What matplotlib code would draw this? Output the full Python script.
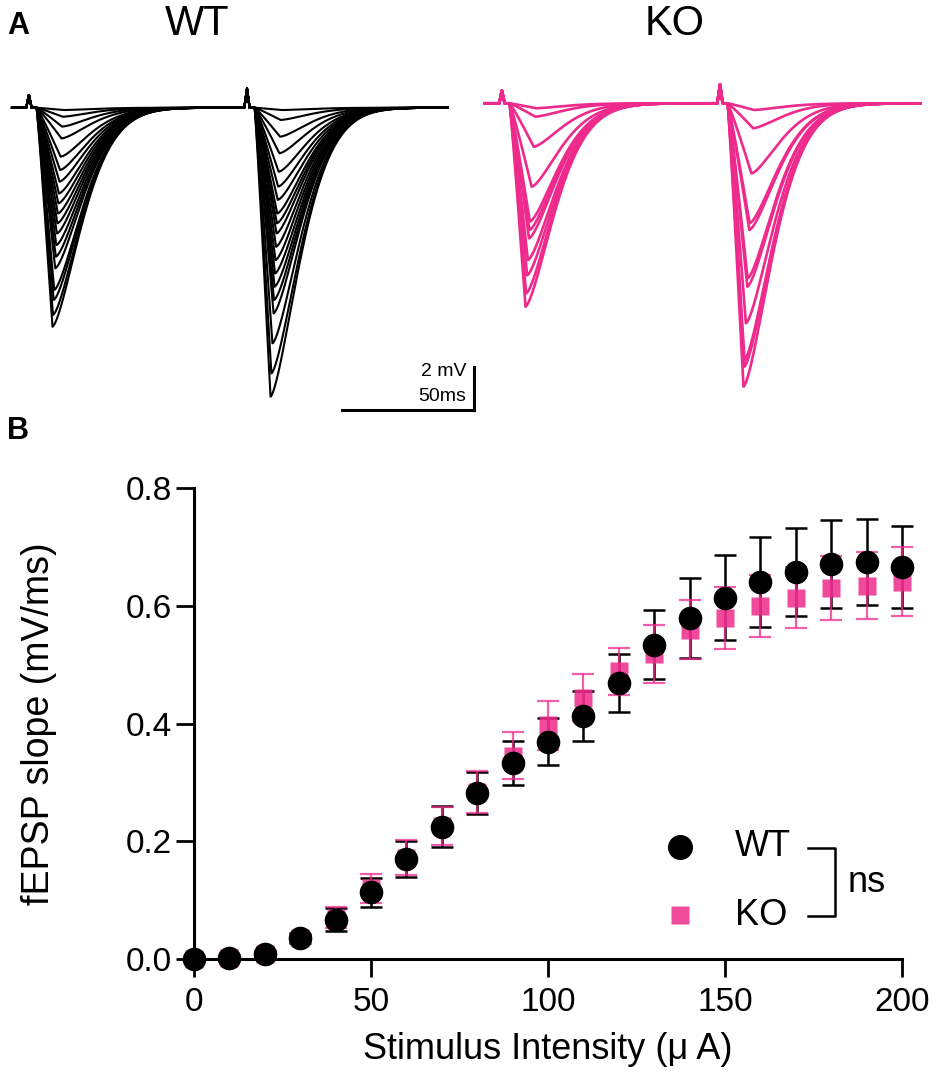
import numpy as np
import matplotlib
matplotlib.use("Agg")
import matplotlib.pyplot as plt

plt.rcParams['font.family'] = ['Liberation Sans', 'DejaVu Sans']

PINK = '#EE2A8C'

# ---- Panel B data: input/output curve ----
stim_ua = [0, 10, 20, 30, 40, 50, 60, 70, 80, 90, 100,
           110, 120, 130, 140, 150, 160, 170, 180, 190, 200]
wt_mean = [0.000, 0.002, 0.009, 0.035, 0.067, 0.113, 0.170, 0.225, 0.282, 0.333, 0.369,
           0.413, 0.469, 0.534, 0.579, 0.614, 0.640, 0.657, 0.671, 0.675, 0.666]
wt_sem = [0.002, 0.003, 0.004, 0.007, 0.019, 0.025, 0.031, 0.035, 0.036, 0.037, 0.040,
          0.042, 0.049, 0.059, 0.068, 0.073, 0.076, 0.075, 0.074, 0.073, 0.070]
ko_mean = [0.000, 0.001, 0.008, 0.036, 0.070, 0.120, 0.172, 0.226, 0.284, 0.345, 0.397,
           0.444, 0.489, 0.518, 0.559, 0.579, 0.600, 0.614, 0.630, 0.634, 0.641]
ko_sem = [0.002, 0.003, 0.004, 0.008, 0.018, 0.025, 0.030, 0.033, 0.036, 0.040, 0.042,
          0.040, 0.040, 0.050, 0.050, 0.052, 0.053, 0.052, 0.054, 0.057, 0.058]
x_ticks = [0, 50, 100, 150, 200]
y_ticks = [0.0, 0.2, 0.4, 0.6, 0.8]

# ---- Panel A data: peak amplitudes (mV) of paired-pulse fEPSPs ----
stim_ms = [6.4, 89.0]
artifact_mv = [0.6, 0.9]
wt_peak1 = [0.11, 0.42, 0.88, 1.43, 2.28, 2.90, 3.44, 3.99, 4.45, 4.92,
            5.38, 5.85, 6.39, 6.93, 7.47, 8.48, 8.94, 9.64, 10.19]
wt_peak2 = [0.11, 0.57, 1.35, 2.12, 2.98, 3.67, 4.29, 4.92, 5.38, 5.85,
            6.47, 7.09, 7.71, 8.33, 8.95, 9.57, 10.96, 12.36, 13.44]
ko_peak1 = [0.23, 0.62, 2.02, 3.88, 5.50, 5.89, 6.28, 7.29, 8.00, 8.84, 9.46]
ko_peak2 = [0.31, 1.16, 3.26, 5.58, 5.89, 8.14, 8.53, 10.23, 11.94, 12.25, 13.18]


def response(t, t0, amp, amax):
    ''' Shape of one fEPSP (negative going) after a stimulus at t0. '''
    tp = 6.0 + 4.0*(1.0 - amp/amax)
    s = t - t0 - 2.9
    g = np.zeros_like(t)
    rise = (s > 0) & (s <= tp)
    g[rise] = (s[rise]/tp)**1.1
    dec = s > tp
    g[dec] = np.exp(-((s[dec] - tp)/15.2)**1.5)
    return -amp*g


def artifact(t, t0, h):
    return h*np.clip(1.0 - np.abs(t - t0)/1.0, 0, None)


def draw_traces(ax, p1, p2, color, lw):
    t = np.linspace(0, 165, 3000)
    amax1, amax2 = max(p1), max(p2)
    for a1, a2 in zip(p1, p2):
        v = response(t, stim_ms[0], a1, amax1) + response(t, stim_ms[1], a2, amax2)
        v += artifact(t, stim_ms[0], artifact_mv[0]) + artifact(t, stim_ms[1], artifact_mv[1])
        ax.plot(t, v, color=color, lw=lw)
    ax.axis('off')


fig = plt.figure(figsize=(9.53, 10.91), dpi=100)
H = 1091.0
W = 953.0

# WT traces: 50 ms = 132 px, 2 mV = 43 px
axA1 = fig.add_axes([0, 1 - 420/H, 476/W, 360/H])
draw_traces(axA1, wt_peak1, wt_peak2, 'black', 1.5)
axA1.set_xlim(-12/2.64, (476 - 12)/2.64)
axA1.set_ylim(-(420 - 107.7)/21.5, (107.7 - 60)/21.5)
# scale bar
axA1.plot([125, 175, 175], [-14.06, -14.06, -12.06], color='black', lw=2.2,
          solid_joinstyle='miter')
axA1.text(172, -12.25, '2 mV', ha='right', va='center', fontsize=14)
axA1.text(172, -13.45, '50ms', ha='right', va='center', fontsize=14)

axA2 = fig.add_axes([476/W, 1 - 420/H, (W - 476)/W, 360/H])
draw_traces(axA2, ko_peak1, ko_peak2, PINK, 1.9)
axA2.set_xlim((476 - 485)/2.64, (W - 485)/2.64)
axA2.set_ylim(-(420 - 103.3)/21.5, (103.3 - 60)/21.5)

fig.text(197/W, 1 - 24/H, 'WT', ha='center', va='center', fontsize=30)
fig.text(675/W, 1 - 24/H, 'KO', ha='center', va='center', fontsize=30)
fig.text(7/W, 1 - 26/H, 'A', ha='left', va='center', fontsize=22, fontweight='bold')
fig.text(7/W, 1 - 431/H, 'B', ha='left', va='center', fontsize=22, fontweight='bold')

# ---- Panel B ----
ax = fig.add_axes([194/W, 1 - 959/H, 708/W, 471/H])
ax.errorbar(stim_ua, wt_mean, yerr=wt_sem, fmt='none', ecolor='black',
            elinewidth=1.8, capsize=8, capthick=1.8, zorder=2, clip_on=False)
ax.errorbar(stim_ua, ko_mean, yerr=ko_sem, fmt='none', ecolor=PINK, alpha=0.75,
            elinewidth=1.6, capsize=8, capthick=1.6, zorder=2.5, clip_on=False)
ax.plot(stim_ua, ko_mean, 's', color=PINK, ms=13.5, mec='none', alpha=0.85,
        zorder=3, clip_on=False)
ax.plot(stim_ua, wt_mean, 'o', color='black', ms=17, mec='none', zorder=4,
        clip_on=False)

ax.set_xlim(0, 200)
ax.set_ylim(0, 0.8)
ax.set_xticks(x_ticks)
ax.set_yticks(y_ticks)
ax.set_yticklabels(['%.1f' % v for v in y_ticks])
for side in ['top', 'right']:
    ax.spines[side].set_visible(False)
for side in ['left', 'bottom']:
    ax.spines[side].set_linewidth(2.2)
ax.tick_params(axis='both', direction='out', length=13, width=2.0, labelsize=24)
ax.tick_params(axis='y', pad=3)
ax.tick_params(axis='x', pad=7)
ax.set_xlabel('Stimulus Intensity (μ A)', fontsize=26, labelpad=10)
ax.set_ylabel('fEPSP slope (mV/ms)', fontsize=27, labelpad=49)

# legend with "ns" bracket
ax.plot([0.6864], [0.2378], 'o', color='black', ms=17, transform=ax.transAxes, clip_on=False)
ax.plot([0.6864], [0.0934], 's', color=PINK, ms=13.5, mec='none', alpha=0.85,
        transform=ax.transAxes, clip_on=False)
ax.text(0.7641, 0.2378, 'WT', ha='left', va='center', fontsize=26, transform=ax.transAxes)
ax.text(0.7641, 0.0934, 'KO', ha='left', va='center', fontsize=26, transform=ax.transAxes)
ax.plot([0.8672, 0.9054, 0.9054, 0.8672], [0.2357, 0.2357, 0.0913, 0.0913],
        color='black', lw=1.8, transform=ax.transAxes, clip_on=False)
ax.text(0.9237, 0.1614, 'ns', ha='left', va='center', fontsize=26, transform=ax.transAxes)

fig.savefig('out.png', dpi=100)
